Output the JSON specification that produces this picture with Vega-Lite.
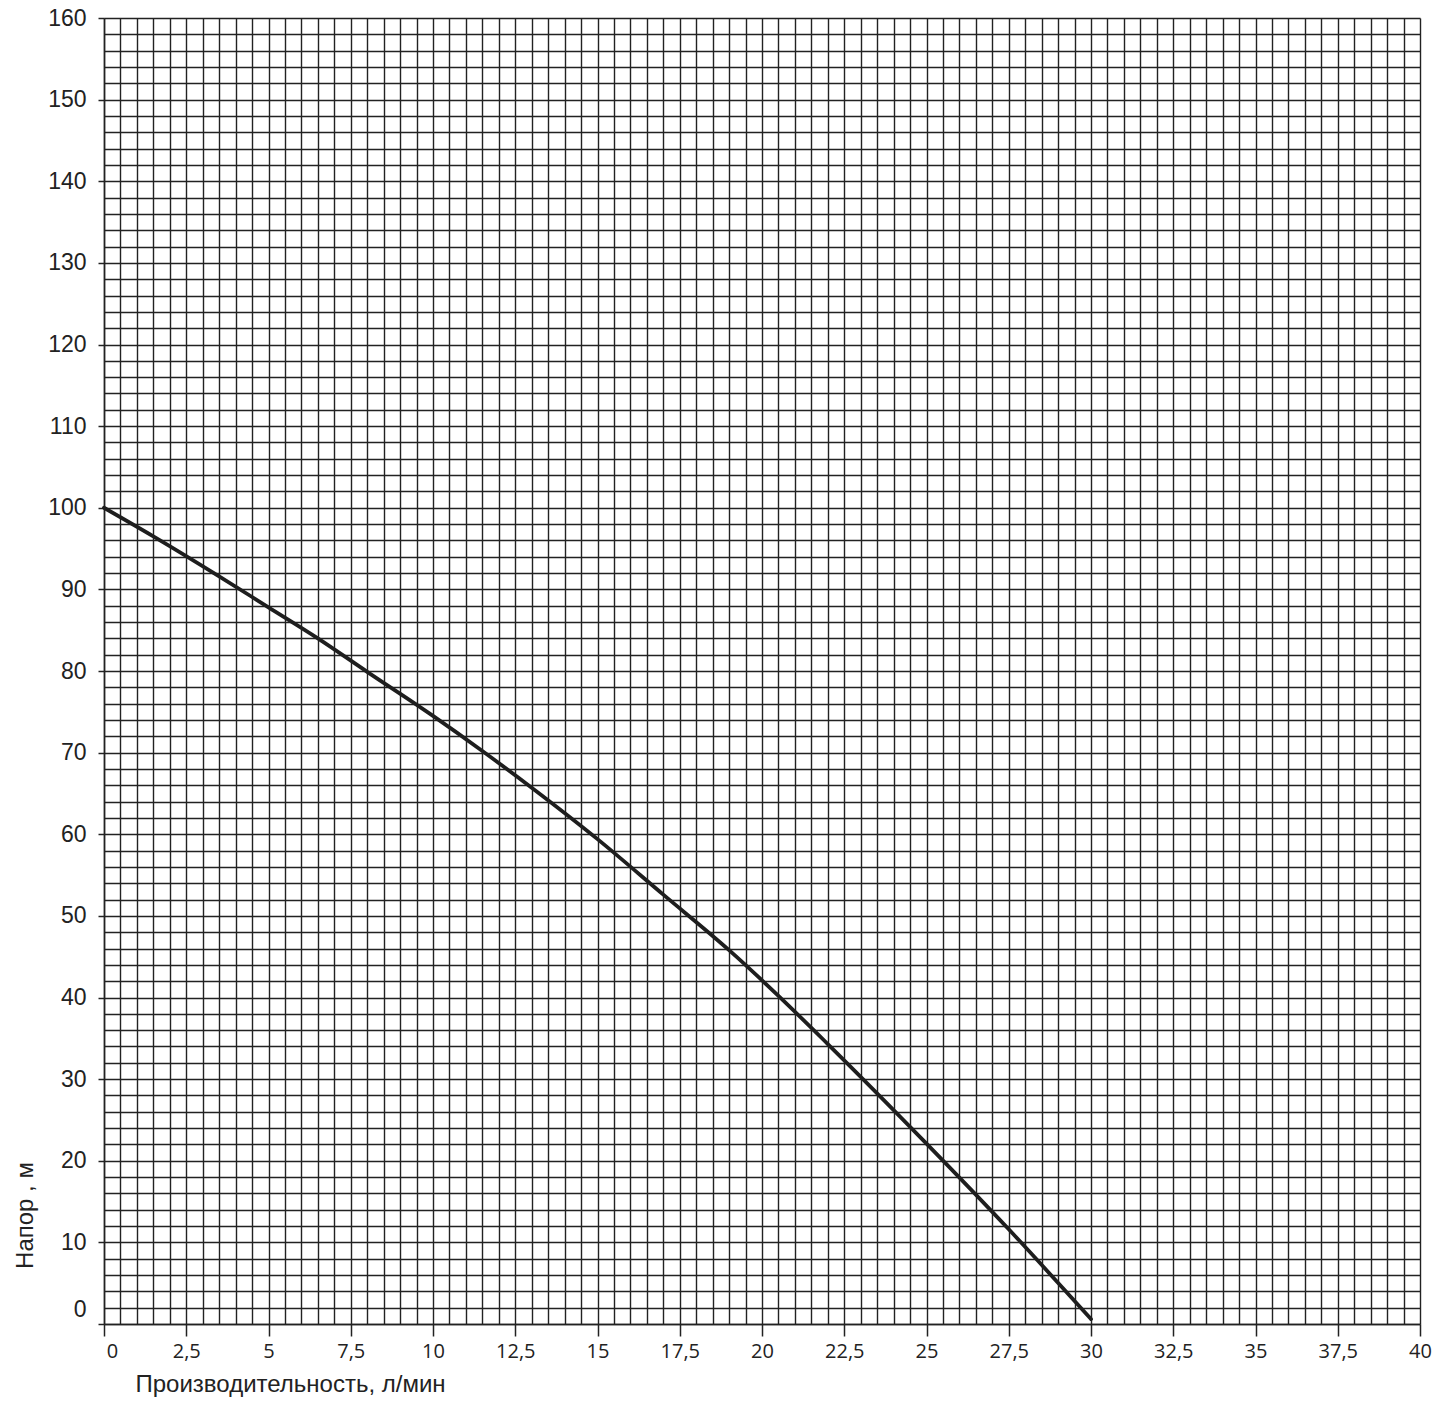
{
  "$schema": "https://vega.github.io/schema/vega-lite/v6.json",
  "autosize": "none",
  "width": 1316,
  "height": 1306,
  "padding": {"left": 104, "top": 18, "right": 22, "bottom": 81},
  "background": "white",
  "config": {"view": {"stroke": null}},
  "data": {
    "values": [
      {"q": 0, "h": 100},
      {"q": 1.5, "h": 96.5},
      {"q": 3.5, "h": 91.6},
      {"q": 5, "h": 87.8},
      {"q": 6.5, "h": 84.0},
      {"q": 8, "h": 79.9},
      {"q": 10, "h": 74.5},
      {"q": 11.5, "h": 70.2},
      {"q": 13, "h": 65.7},
      {"q": 15, "h": 59.4},
      {"q": 17, "h": 52.6},
      {"q": 19, "h": 45.8},
      {"q": 20.5, "h": 40.2},
      {"q": 22, "h": 34.3},
      {"q": 25, "h": 22.1},
      {"q": 27.5, "h": 11.6},
      {"q": 30, "h": 0.6}
    ]
  },
  "mark": {"type": "line", "interpolate": "monotone", "color": "#1e1e1e", "strokeWidth": 3.8, "strokeCap": "round"},
  "encoding": {
    "x": {
      "field": "q",
      "type": "quantitative",
      "scale": {"domain": [0, 40], "nice": false, "zero": false},
      "axis": {
        "title": "Производительность, л/мин",
        "titleFont": "Liberation Sans",
        "titleFontSize": 24,
        "titleFontWeight": "normal",
        "titleColor": "#222222",
        "titleAnchor": "start",
        "titleAlign": "left",
        "titleBaseline": "alphabetic",
        "titleX": 31,
        "titleY": 67,
        "values": [0,0.5,1,1.5,2,2.5,3,3.5,4,4.5,5,5.5,6,6.5,7,7.5,8,8.5,9,9.5,10,10.5,11,11.5,12,12.5,13,13.5,14,14.5,15,15.5,16,16.5,17,17.5,18,18.5,19,19.5,20,20.5,21,21.5,22,22.5,23,23.5,24,24.5,25,25.5,26,26.5,27,27.5,28,28.5,29,29.5,30,30.5,31,31.5,32,32.5,33,33.5,34,34.5,35,35.5,36,36.5,37,37.5,38,38.5,39,39.5,40],
        "format": "~g",
        "labelExpr": "datum.value % 2.5 == 0 ? replace(datum.label, '.', ',') : ''",
        "labelOverlap": false,
        "labelFlush": false,
        "labelFont": "Open Sans",
        "labelFontSize": 20,
        "labelColor": "#222222",
        "labelPadding": 5,
        "labelOffset": {"condition": {"test": "datum.value == 0", "value": 8}, "value": 0},
        "tickSize": 12,
        "tickWidth": 1.5,
        "tickColor": "#222222",
        "tickOpacity": {"condition": {"test": "datum.value % 2.5 != 0", "value": 0}, "value": 1},
        "grid": true,
        "gridColor": "#222222",
        "gridWidth": 1.4,
        "gridOpacity": 1,
        "domain": true,
        "domainColor": "#222222",
        "domainWidth": 1.5
      }
    },
    "y": {
      "field": "h",
      "type": "quantitative",
      "scale": {"domain": [0, 160], "nice": false},
      "axis": {
        "title": "Напор , м",
        "titleFont": "Liberation Sans",
        "titleFontSize": 24,
        "titleFontWeight": "normal",
        "titleColor": "#222222",
        "titleAngle": 270,
        "titleAlign": "center",
        "titleBaseline": "alphabetic",
        "titleX": -72,
        "titleY": 1197,
        "values": [0,2,4,6,8,10,12,14,16,18,20,22,24,26,28,30,32,34,36,38,40,42,44,46,48,50,52,54,56,58,60,62,64,66,68,70,72,74,76,78,80,82,84,86,88,90,92,94,96,98,100,102,104,106,108,110,112,114,116,118,120,122,124,126,128,130,132,134,136,138,140,142,144,146,148,150,152,154,156,158,160],
        "format": "d",
        "labelExpr": "datum.value % 10 == 0 ? datum.label : ''",
        "labelOverlap": false,
        "labelFlush": false,
        "labelFont": "Liberation Sans",
        "labelFontSize": 23,
        "labelColor": "#222222",
        "labelPadding": 12,
        "labelOffset": {"condition": {"test": "datum.value == 0", "value": -15}, "value": 0},
        "tickSize": 6,
        "tickWidth": 1.5,
        "tickColor": "#222222",
        "tickOpacity": {"condition": {"test": "datum.value % 10 != 0", "value": 0}, "value": 1},
        "grid": true,
        "gridColor": "#222222",
        "gridWidth": 1.4,
        "gridOpacity": 1,
        "domain": true,
        "domainColor": "#222222",
        "domainWidth": 1.5
      }
    }
  }
}
